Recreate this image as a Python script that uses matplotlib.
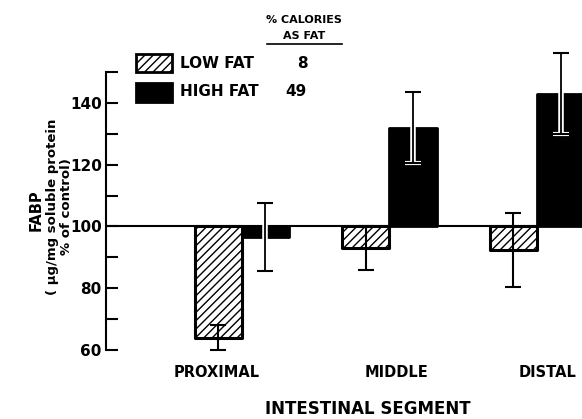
import matplotlib
matplotlib.use("Agg")
import matplotlib.pyplot as plt
import matplotlib.transforms as mtransforms
from matplotlib.patches import Rectangle
from matplotlib.lines import Line2D
import numpy as np

# ---- data ----
segments = ["PROXIMAL", "MIDDLE", "DISTAL"]
low_fat = [64, 93, 92.5]
low_fat_err = [4, 7, 12]
high_fat = [96.5, 132, 143]
high_fat_err = [11, 11.5, 13]
diet_labels = ["LOW FAT", "HIGH FAT"]
diet_pct = ["8", "49"]
yticks_major = [60, 80, 100, 120, 140]
baseline = 100

plt.rcParams['hatch.linewidth'] = 1.0
plt.rcParams['font.family'] = ['DejaVu Sans']

W, H = 582, 419
fig = plt.figure(figsize=(W / 100, H / 100), dpi=100)
ax = fig.add_axes([106 / W, (H - 350) / H, 1 - 106 / W, (350 - 72) / H])

x = np.arange(len(segments))
bw = 0.32
xl = x - bw / 2
xh = x + bw / 2

low_h = [v - baseline for v in low_fat]
high_h = [v - baseline for v in high_fat]

ax.bar(xl, low_h, width=bw, bottom=baseline, facecolor='white', edgecolor='black',
       hatch='////', linewidth=2.2, joinstyle='round', zorder=2)
ax.bar(xh, high_h, width=bw, bottom=baseline, facecolor='black', edgecolor='black',
       linewidth=2.0, joinstyle='round', zorder=2)

ax.axhline(baseline, color='black', lw=1.5, zorder=1)

# error bars
eb1 = ax.errorbar(xl, low_fat, yerr=low_fat_err, fmt='none', ecolor='black',
                  elinewidth=1.5, capsize=6, capthick=1.5, zorder=3)
eb2 = ax.errorbar(xh, high_fat, yerr=high_fat_err, fmt='none', ecolor='white',
                  elinewidth=4, capsize=6, capthick=3, zorder=3)
eb3 = ax.errorbar(xh, high_fat, yerr=high_fat_err, fmt='none', ecolor='black',
                  elinewidth=1.3, capsize=6, capthick=1.5, zorder=4)
for eb in (eb1, eb2, eb3):
    for art in eb.lines[1] + eb.lines[2]:
        art.set_clip_on(False)

ax.set_xlim(-0.92, 2.305)
ax.set_ylim(60, 150)

for s in ['top', 'right', 'bottom']:
    ax.spines[s].set_visible(False)
ax.spines['left'].set_linewidth(1.5)

ax.set_yticks(yticks_major)
ax.set_yticks(np.arange(70, 151, 20), minor=True)
ax.tick_params(axis='y', which='both', direction='in', length=8.5, width=1.5,
               labelsize=11, pad=3)
for lab in ax.get_yticklabels():
    lab.set_fontweight('bold')
ax.set_xticks([])

# category labels
label_offsets = [-0.17, 0.05, 0.07]
trans = mtransforms.blended_transform_factory(ax.transData, fig.transFigure)
for xi, name, off in zip(x, segments, label_offsets):
    ax.text(xi + off, 1 - 372 / H, name, transform=trans, ha='center', va='center',
            fontsize=10.5, fontweight='bold')

fig.text(368 / W, 1 - 409 / H, "INTESTINAL SEGMENT", ha='center', va='center',
         fontsize=12, fontweight='bold')

# y label (three rotated lines, positioned by baseline)
ylab_lines = ["FABP", "( µg/mg soluble protein", "% of control)"]
ylab_base_x = [41, 56, 70]
ylab_center_y = [210, 207, 207]
ylab_sizes = [10.5, 9.5, 9.5]
for txt, bx, cy, fs in zip(ylab_lines, ylab_base_x, ylab_center_y, ylab_sizes):
    fig.text(bx / W, 1 - cy / H, txt, rotation=90, rotation_mode='anchor',
             ha='center', va='baseline', fontsize=fs, fontweight='bold')

# legend
fig.add_artist(Rectangle((136 / W, 1 - 72 / H), 36 / W, 18 / H, transform=fig.transFigure,
                         facecolor='white', edgecolor='black', hatch='////', linewidth=2.0))
fig.add_artist(Rectangle((136 / W, 1 - 102 / H), 36 / W, 19 / H, transform=fig.transFigure,
                         facecolor='black', edgecolor='black', linewidth=2.0))
for lab, pct, yc, xc in zip(diet_labels, diet_pct, [63, 92], [302, 296]):
    fig.text(180 / W, 1 - yc / H, lab, ha='left', va='center', fontsize=11, fontweight='bold')
    fig.text(xc / W, 1 - yc / H, pct, ha='center', va='center', fontsize=11, fontweight='bold')

fig.text(304 / W, 1 - 20 / H, "% CALORIES", ha='center', va='center', fontsize=8, fontweight='bold')
fig.text(304 / W, 1 - 36 / H, "AS FAT", ha='center', va='center', fontsize=8, fontweight='bold')
fig.add_artist(Line2D([267 / W, 342 / W], [1 - 44 / H, 1 - 44 / H], transform=fig.transFigure,
                      color='black', lw=1.2))

fig.savefig("out.png", dpi=100)
